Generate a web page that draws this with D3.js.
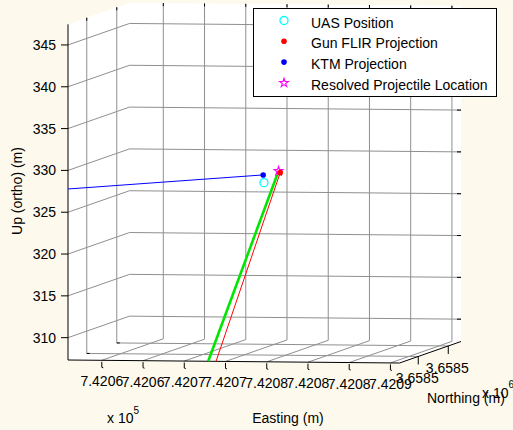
<!DOCTYPE html>
<html>
<head>
<meta charset="utf-8">
<script src="https://cdn.jsdelivr.net/npm/d3@7"></script>
<style>
    body { margin: 0; background: #fdf9ec; }
    svg { display: block; font-family: Arial, "Liberation Sans", sans-serif; }
</style>
</head>
<body>
<div id="chart"></div>
<script>
// Axis limits (data units)
const eastLimits = [742050.9, 742091.1];
const northLimits = [3658483.75, 3658504.24];
const upLimits = [307.33, 347.47];

// Ticks and their labels
const eastTicks = [742055, 742060, 742065, 742070, 742075, 742080, 742085, 742090];
const eastLabels = ['7.4206', '7.4206', '7.4207', '7.4207', '7.4208', '7.4208', '7.4208', '7.4209'];
const northTicks = [3658490, 3658500];
const northLabels = ['3.6585', '3.6585'];
const upTicks = [310, 315, 320, 325, 330, 335, 340, 345];

// Points as [easting, northing, up]
const uasPosition = [742071.3, 3658493.0, 327.56];
const gunFlirProjection = [742072.9, 3658494.0, 328.64];
const ktmProjection = [742071.2, 3658493.0, 328.48];
const resolvedLocation = [742072.7, 3658494.0, 328.84];

// Rays (already clipped to the axes box)
const gunFlirRay = [[742072.9, 3658494.0, 328.64], [742068.85, 3658483.75, 307.33]];
const resolvedRay = [[742072.7, 3658494.0, 328.84], [742067.9, 3658483.75, 307.33]];
const ktmRay = [[742071.2, 3658493.0, 328.48], [742050.9, 3658483.75, 327.78]];

const legendItems = ['UAS Position', 'Gun FLIR Projection', 'KTM Projection', 'Resolved Projectile Location'];

// Configuration: orthographic box projection on screen
const config = {
    width: 513,
    height: 430,
    origin: [68, 360],      // (xmin, ymin, zmin)
    ex: [331.5, 3],         // full easting span
    ey: [61.5, -21.5],      // full northing span
    ez: [0, -335.7],        // full up span
    gridColor: '#8f8f8f',
    fontSize: 14
};

const svg = d3.select('#chart')
    .append('svg')
    .attr('width', config.width)
    .attr('height', config.height);

const fx = d3.scaleLinear().domain(eastLimits).range([0, 1]);
const fy = d3.scaleLinear().domain(northLimits).range([0, 1]);
const fz = d3.scaleLinear().domain(upLimits).range([0, 1]);

// normalized box coords -> screen
function box(a, b, c) {
    return [
        config.origin[0] + a * config.ex[0] + b * config.ey[0] + c * config.ez[0],
        config.origin[1] + a * config.ex[1] + b * config.ey[1] + c * config.ez[1]
    ];
}

// data coords -> screen
function project(p) {
    return box(fx(p[0]), fy(p[1]), fz(p[2]));
}

const line = d3.line();

// White plot area (back wall, left wall, floor)
svg.append('path')
    .attr('d', line([box(0, 0, 0), box(0, 0, 1), box(0, 1, 1), box(1, 1, 1), box(1, 1, 0), box(1, 0, 0)]) + 'Z')
    .attr('fill', '#fff');

// Grid lines
const grid = svg.append('g')
    .attr('fill', 'none')
    .attr('stroke', config.gridColor)
    .attr('stroke-width', 1);

upTicks.forEach(t => {
    const c = fz(t);
    grid.append('path').attr('d', line([box(0, 0, c), box(0, 1, c), box(1, 1, c)]));
});
eastTicks.forEach(t => {
    const a = fx(t);
    grid.append('path').attr('d', line([box(a, 0, 0), box(a, 1, 0), box(a, 1, 1)]));
});
northTicks.forEach(t => {
    const b = fy(t);
    grid.append('path').attr('d', line([box(0, b, 1), box(0, b, 0), box(1, b, 0)]));
});

// Axis lines
const axes = svg.append('g')
    .attr('fill', 'none')
    .attr('stroke', '#000')
    .attr('stroke-width', 1);

axes.append('path').attr('d', line([box(0, 0, 1), box(0, 0, 0), box(1, 0, 0), box(1, 1, 0)]));

// Ticks
function tick(p, dx, dy) {
    axes.append('path').attr('d', line([p, [p[0] + dx, p[1] + dy]]));
}

upTicks.forEach(t => {
    const c = fz(t);
    tick(box(0, 0, c), -7, 0);
    tick(box(1, 1, c), -4, 0);
});
eastTicks.forEach(t => {
    const p = box(fx(t), 0, 0);
    axes.append('path').attr('d', line([[p[0], p[1] + 1.5], [p[0], p[1] + 7], [p[0] + 1.5, p[1] + 7.5]]));
    tick(box(fx(t), 1, 1), 0, 3);
});
northTicks.forEach(t => {
    const p = box(1, fy(t), 0);
    tick(p, 0, 8);
    tick(box(0, fy(t), 1), 0, 3);
    tick(box(0, fy(t), 0), 3, 0);
});

// Tick labels
const labels = svg.append('g')
    .attr('font-size', config.fontSize)
    .attr('fill', '#000');

upTicks.forEach(t => {
    const p = box(0, 0, fz(t));
    labels.append('text')
        .attr('x', p[0] - 12)
        .attr('y', p[1] + 5)
        .attr('text-anchor', 'end')
        .text(t);
});
eastTicks.forEach((t, i) => {
    const p = box(fx(t), 0, 0);
    labels.append('text')
        .attr('x', p[0])
        .attr('y', p[1] + 26)
        .attr('text-anchor', 'middle')
        .text(eastLabels[i]);
});
northTicks.forEach((t, i) => {
    const p = box(1, fy(t), 0);
    labels.append('text')
        .attr('x', p[0] - 1)
        .attr('y', p[1] + 27)
        .attr('text-anchor', 'middle')
        .text(northLabels[i]);
});

// Exponents
const exp5 = labels.append('text').attr('x', 107).attr('y', 423);
exp5.append('tspan').text('x 10');
exp5.append('tspan').attr('font-size', 10).attr('dy', -9).text('5');

const exp6 = labels.append('text').attr('x', 482).attr('y', 398);
exp6.append('tspan').text('x 10');
exp6.append('tspan').attr('font-size', 10).attr('dy', -10).text('6');

// Axis titles
labels.append('text')
    .attr('x', 288).attr('y', 423)
    .attr('text-anchor', 'middle')
    .text('Easting (m)');

labels.append('text')
    .attr('x', 427).attr('y', 403)
    .text('Northing (m)');

labels.append('text')
    .attr('transform', 'translate(22,191) rotate(-90)')
    .attr('text-anchor', 'middle')
    .text('Up (ortho) (m)');

// Data lines
svg.append('path')
    .attr('d', line(ktmRay.map(project)))
    .attr('stroke', '#0000ff').attr('stroke-width', 1).attr('fill', 'none');
svg.append('path')
    .attr('d', line(resolvedRay.map(project)))
    .attr('stroke', '#00e600').attr('stroke-width', 2.6).attr('fill', 'none');
svg.append('path')
    .attr('d', line(gunFlirRay.map(project)))
    .attr('stroke', '#ff0000').attr('stroke-width', 1).attr('fill', 'none');

// Markers
const star = d3.symbol(d3.symbolStar, 24);

function drawMarker(g, kind, p) {
    if (kind === 0) {
        g.append('circle').attr('cx', p[0]).attr('cy', p[1]).attr('r', 4)
            .attr('fill', 'none').attr('stroke', '#00ffff').attr('stroke-width', 1.3);
    } else if (kind === 1) {
        g.append('circle').attr('cx', p[0]).attr('cy', p[1]).attr('r', 2.8).attr('fill', '#ff0000');
    } else if (kind === 2) {
        g.append('circle').attr('cx', p[0]).attr('cy', p[1]).attr('r', 2.8).attr('fill', '#0000ff');
    } else {
        g.append('path').attr('d', star())
            .attr('transform', `translate(${p[0]},${p[1]})`)
            .attr('fill', 'none').attr('stroke', '#ff00ff').attr('stroke-width', 1.1);
    }
}

const marks = svg.append('g');
drawMarker(marks, 0, project(uasPosition));
drawMarker(marks, 2, project(ktmProjection));
drawMarker(marks, 3, project(resolvedLocation));
drawMarker(marks, 1, project(gunFlirProjection));

// Legend
const legend = svg.append('g').attr('transform', 'translate(253.5,8.5)');
legend.append('rect')
    .attr('width', 243).attr('height', 88)
    .attr('fill', '#fff').attr('stroke', '#000').attr('stroke-width', 1);

legendItems.forEach((name, i) => {
    const y = 12 + i * 20.8;
    drawMarker(legend, i, [30.5, y]);
    legend.append('text')
        .attr('x', 57.5).attr('y', y + 7)
        .attr('font-size', config.fontSize)
        .text(name);
});
</script>
</body>
</html>
